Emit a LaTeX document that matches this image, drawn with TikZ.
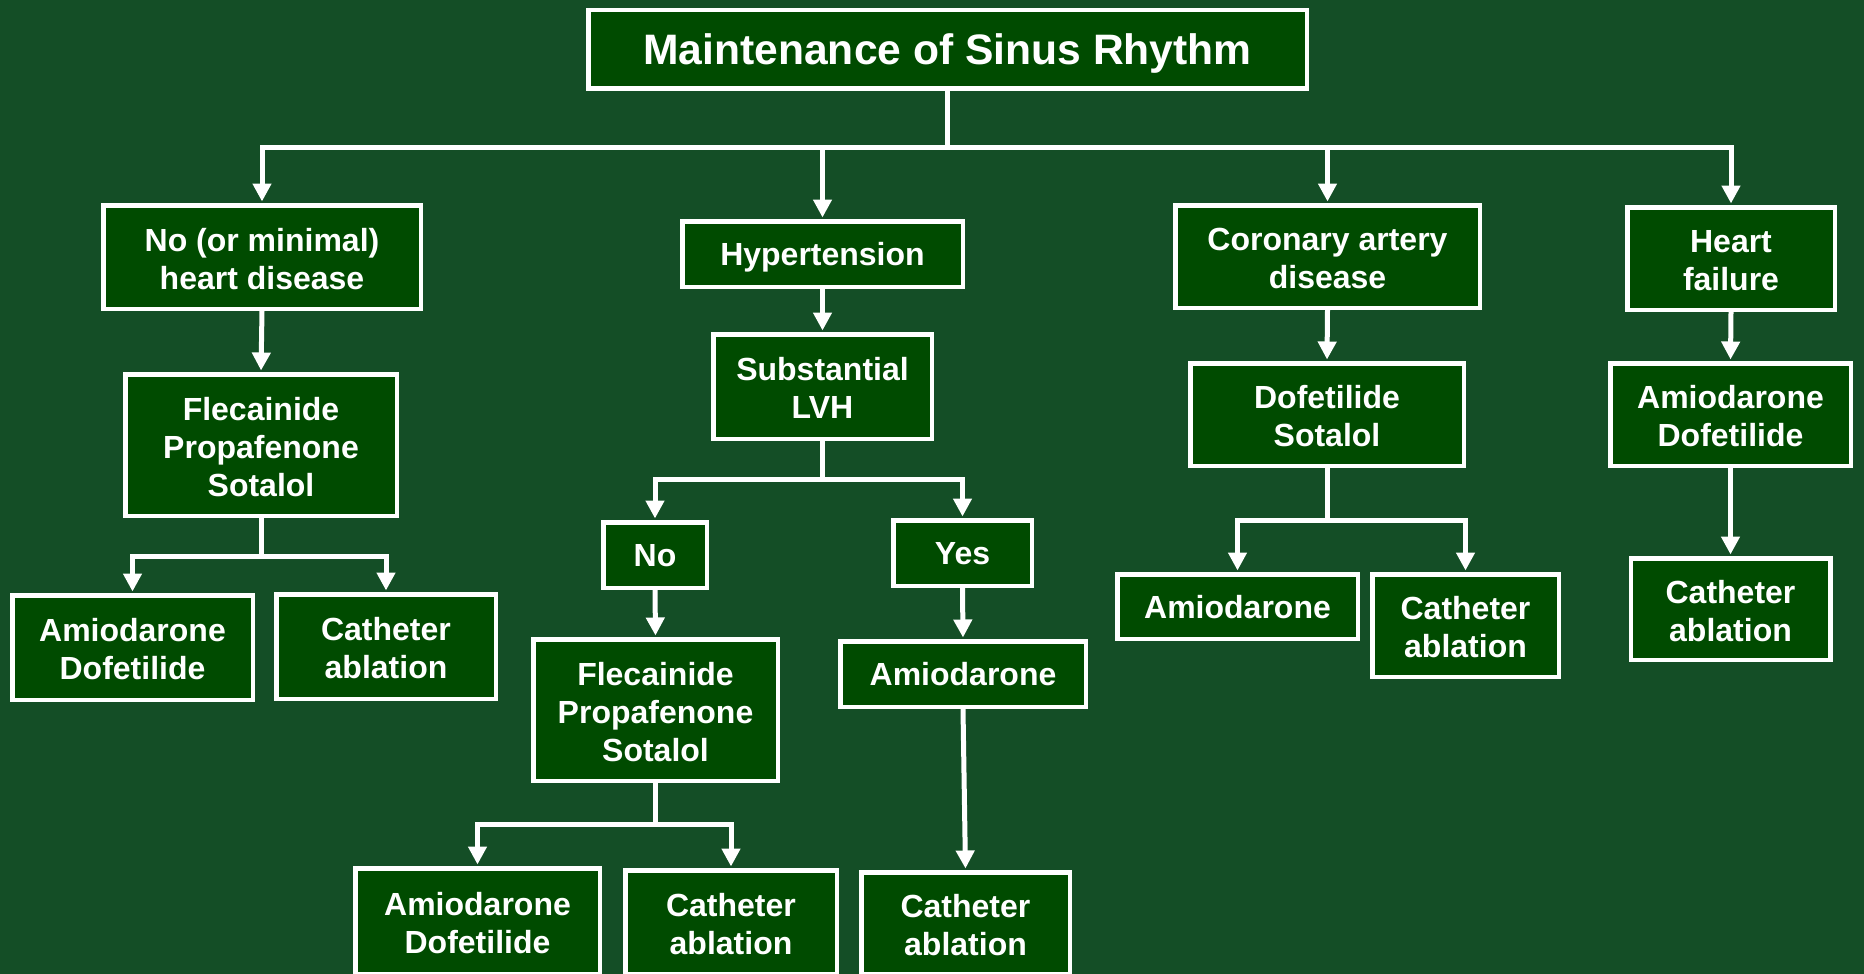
\documentclass[tikz,border=0pt]{standalone}
\usepackage{fontspec}
\setmainfont{Liberation Sans}
\usetikzlibrary{arrows.meta,calc}
\definecolor{bggreen}{RGB}{20,78,38}
\definecolor{boxgreen}{RGB}{0,75,0}
\newcommand{\mytopstrut}{\rule{0pt}{26.5pt}}
\begin{document}
\begin{tikzpicture}[x=1pt,y=-1pt,
  box/.style={draw=white, line width=4.5pt, fill=boxgreen, text=white,
    font=\bfseries\fontsize{32}{38}\selectfont, align=center, inner sep=0pt,
    text depth=-4.8pt},
  conn/.style={draw=white, line width=5pt, line join=miter},
  arr/.style={conn, -{Triangle[width=18pt,length=18pt]}, shorten >=1.5pt}]
\fill[bggreen] (0,0) rectangle (1864,974);
\useasboundingbox (0,0) rectangle (1864,974);

% title
\node[box, font=\bfseries\fontsize{42.6}{50}\selectfont, minimum width=718.5pt, minimum height=78.5pt] (T) at (947.5,49.5) {Maintenance of Sinus Rhythm};

% level 1
\node[box, minimum width=317.5pt, minimum height=103.5pt] (A) at (262,257) {\mytopstrut No (or minimal)\\heart disease};
\node[box, minimum width=280.5pt, minimum height=65.5pt] (B) at (822.5,254) {Hypertension};
\node[box, minimum width=304.5pt, minimum height=102.5pt] (C) at (1327.5,256.5) {\mytopstrut Coronary artery\\disease};
\node[box, minimum width=207.5pt, minimum height=102.5pt] (D) at (1731,258.5) {\mytopstrut Heart\\failure};

% level 2
\node[box, minimum width=271.5pt, minimum height=141.5pt] (A2) at (261,445) {\mytopstrut Flecainide\\Propafenone\\Sotalol};
\node[box, minimum width=218.5pt, minimum height=104.5pt] (B2) at (822.5,386.5) {\mytopstrut Substantial\\LVH};
\node[box, minimum width=273.5pt, minimum height=102.5pt] (C2) at (1327,414.5) {\mytopstrut Dofetilide\\Sotalol};
\node[box, minimum width=240.5pt, minimum height=102.5pt] (D2) at (1730.5,414.5) {\mytopstrut Amiodarone\\Dofetilide};

% level 3
\node[box, minimum width=240.5pt, minimum height=104.5pt] (A3) at (132.5,647.5) {\mytopstrut Amiodarone\\Dofetilide};
\node[box, minimum width=219.5pt, minimum height=104.5pt] (A4) at (386,646.5) {\mytopstrut Catheter\\ablation};
\node[box, minimum width=103.5pt, minimum height=65.5pt] (B3) at (655,555) {No};
\node[box, minimum width=138.5pt, minimum height=65.5pt] (B4) at (962.5,553) {Yes};
\node[box, minimum width=240.5pt, minimum height=64.5pt] (C3) at (1237.5,606.5) {Amiodarone};
\node[box, minimum width=186.5pt, minimum height=102.5pt] (C4) at (1465.5,625.5) {\mytopstrut Catheter\\ablation};
\node[box, minimum width=199.5pt, minimum height=101.5pt] (D3) at (1730.5,609) {\mytopstrut Catheter\\ablation};

% level 4
\node[box, minimum width=244.5pt, minimum height=141.5pt] (B5) at (655.5,710) {\mytopstrut Flecainide\\Propafenone\\Sotalol};
\node[box, minimum width=245.5pt, minimum height=65.5pt] (B6) at (963,674) {Amiodarone};

% level 5
\node[box, minimum width=244.5pt, minimum height=105.5pt] (B7) at (477.5,921) {\mytopstrut Amiodarone\\Dofetilide};
\node[box, minimum width=211.5pt, minimum height=103.5pt] (B8) at (731,922) {\mytopstrut Catheter\\ablation};
\node[box, minimum width=208.5pt, minimum height=101.5pt] (B9) at (965.5,923) {\mytopstrut Catheter\\ablation};

% connectors from title
\coordinate (hub) at (947.5,147);
\draw[conn] (T.south) -- (hub);
\draw[conn] (A.north |- hub) -- (D.north |- hub);
\draw[arr] (hub) -| (A.north);
\draw[arr] (hub) -| (B.north);
\draw[arr] (hub) -| (C.north);
\draw[arr] (hub) -| (D.north);

% column A
\draw[arr] (A.south) -- (A2.north);
\coordinate (ja) at (261,556);
\draw[conn] (A2.south) -- (ja);
\draw[arr] (ja) -| (A3.north);
\draw[arr] (ja) -| (A4.north);

% column B
\draw[arr] (B.south) -- (B2.north);
\coordinate (jb) at (822.5,479);
\draw[conn] (B2.south) -- (jb);
\draw[arr] (jb) -| (B3.north);
\draw[arr] (jb) -| (B4.north);
\draw[arr] (B3.south) -- (B5.north);
\draw[arr] (B4.south) -- (B6.north);
\coordinate (jb2) at (655.5,824);
\draw[conn] (B5.south) -- (jb2);
\draw[arr] (jb2) -| (B7.north);
\draw[arr] (jb2) -| (B8.north);
\draw[arr] (B6.south) -- (B9.north);

% column C
\draw[arr] (C.south) -- (C2.north);
\coordinate (jc) at (1327,520);
\draw[conn] (C2.south) -- (jc);
\draw[arr] (jc) -| (C3.north);
\draw[arr] (jc) -| (C4.north);

% column D
\draw[arr] (D.south) -- (D2.north);
\draw[arr] (D2.south) -- (D3.north);
\end{tikzpicture}
\end{document}
